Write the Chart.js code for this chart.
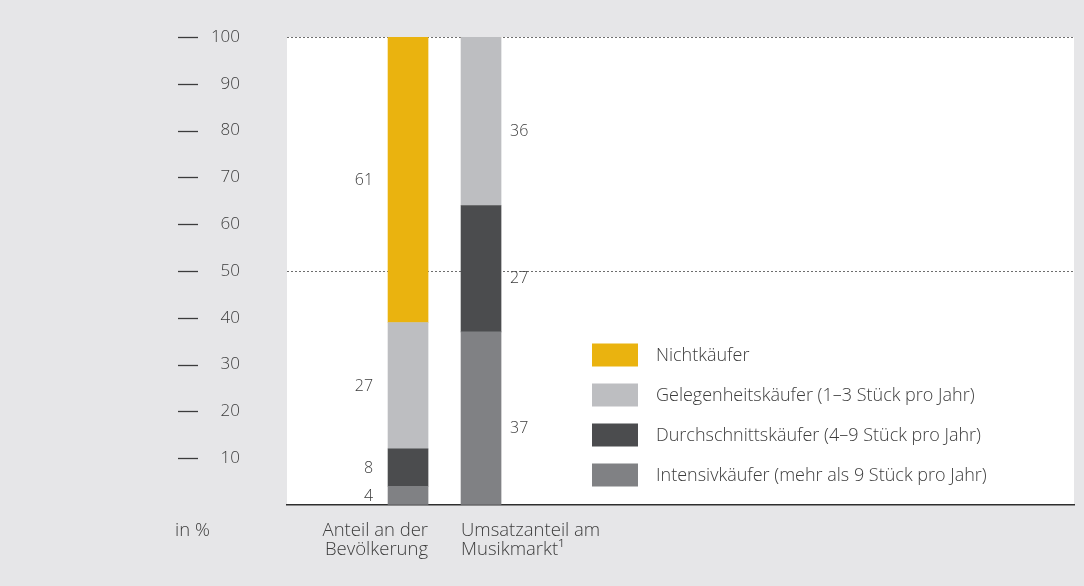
<!DOCTYPE html>
<html>
<head>
<meta charset="utf-8">
<script src="https://cdn.jsdelivr.net/npm/chart.js@4.4.1/dist/chart.umd.min.js"></script>
<style>
  html, body { margin: 0; padding: 0; background: #e6e6e8; }
  #wrap { width: 1084px; height: 586px; }
</style>
</head>
<body>
<div id="wrap"><canvas id="chart" width="1084" height="586"></canvas></div>
<script>
// categories (x) and series, stacked from bottom to top
const categories = [["Anteil an der", "Bevölkerung"], ["Umsatzanteil am", "Musikmarkt¹"]];
const seriesNames = [
  "Intensivkäufer (mehr als 9 Stück pro Jahr)",
  "Durchschnittskäufer (4–9 Stück pro Jahr)",
  "Gelegenheitskäufer (1–3 Stück pro Jahr)",
  "Nichtkäufer",
];
const intensiv = [4, 37];
const durchschnitt = [8, 27];
const gelegenheit = [27, 36];
const nicht = [61, 0];
const yTicks = [10, 20, 30, 40, 50, 60, 70, 80, 90, 100];
const gridValues = [50, 100];

const colors = ["#808184", "#4b4c4e", "#bdbec1", "#eab30f"];
const textColor = "#3c3c3c";
const FONT = "'Open Sans', sans-serif";

const seriesValues = [intensiv, durchschnitt, gelegenheit, nicht];

const datasets = seriesValues.map((vals, s) => ({
  label: seriesNames[s],
  data: vals.map((v, i) => ({ x: i, y: v })),
  backgroundColor: colors[s],
  borderWidth: 0,
  barThickness: 40,
}));

// white plot area + tick dashes + labels + legend
const decor = {
  id: "decor",
  beforeDraw(chart) {
    const { ctx, chartArea: a } = chart;
    ctx.save();
    ctx.fillStyle = "#ffffff";
    ctx.fillRect(a.left, a.top, a.right - a.left, a.bottom - a.top);
    ctx.restore();
  },
  afterDatasetsDraw(chart) {
    const { ctx, chartArea: a, scales } = chart;
    const x = scales.x, y = scales.y;
    ctx.save();
    // y tick dashes
    ctx.strokeStyle = "#3c3c3c";
    ctx.lineWidth = 1.3;
    yTicks.forEach((t) => {
      const py = Math.round(y.getPixelForValue(t)) + 0.5;
      ctx.beginPath();
      ctx.moveTo(178, py);
      ctx.lineTo(198, py);
      ctx.stroke();
    });

    // value labels
    ctx.font = "300 16px " + FONT;
    ctx.fillStyle = textColor;
    ctx.textBaseline = "middle";
    categories.forEach((c, i) => {
      const px = x.getPixelForValue(i);
      let base = 0;
      seriesValues.forEach((vals) => {
        const v = vals[i];
        if (v > 0) {
          const py = y.getPixelForValue(base + v / 2);
          if (i === 0) {
            ctx.textAlign = "right";
            ctx.fillText(String(v), px - 35, py + 1);
          } else {
            ctx.textAlign = "left";
            ctx.fillText(String(v), px + 29, py + 10);
          }
        }
        base += v;
      });
    });

    // category labels
    ctx.font = "300 18.5px " + FONT;
    ctx.textBaseline = "alphabetic";
    categories.forEach((lines, i) => {
      const px = x.getPixelForValue(i);
      ctx.textAlign = i === 0 ? "right" : "left";
      const lx = i === 0 ? px + 20 : px - 20;
      lines.forEach((ln, k) => ctx.fillText(ln, lx, a.bottom + 31 + k * 19));
    });
    ctx.textAlign = "left";
    ctx.fillText("in %", 175, a.bottom + 31);

    // legend (top series first)
    ctx.font = "300 18px " + FONT;
    ctx.textBaseline = "middle";
    for (let k = 0; k < seriesNames.length; k++) {
      const s = seriesNames.length - 1 - k;
      const cy = 355 + k * 40;
      ctx.fillStyle = colors[s];
      ctx.fillRect(592, cy - 11.5, 46, 23);
      ctx.fillStyle = textColor;
      ctx.fillText(seriesNames[s], 656, cy + 1);
    }
    ctx.restore();
  },
};

new Chart(document.getElementById("chart"), {
  type: "bar",
  data: { datasets },
  options: {
    responsive: false,
    animation: false,
    layout: { padding: { top: 37, right: 10, left: 0, bottom: 0 } },
    plugins: { legend: { display: false }, tooltip: { enabled: false } },
    scales: {
      x: {
        type: "linear",
        stacked: true,
        offset: false,
        min: -1.658,
        max: 9.123,
        ticks: { display: false },
        grid: { display: false },
        border: { display: true, color: "#2e2e2e", width: 1.5 },
        afterFit: (s) => { s.height = 81; },
      },
      y: {
        stacked: true,
        min: 0,
        max: 100,
        afterFit: (s) => {
          s.width = 287;
          s.paddingTop = 0;
          s.paddingBottom = 0;
        },
        ticks: {
          stepSize: 10,
          padding: 47,
          color: textColor,
          font: { family: FONT, size: 17, weight: 300 },
          callback: (v) => (yTicks.includes(v) ? String(v) : ""),
        },
        border: { display: false, dash: [2, 2] },
        grid: {
          drawTicks: false,
          lineWidth: 1,
          color: (c) => (gridValues.includes(c.tick.value) ? "#6e6e6e" : "rgba(0,0,0,0)"),
        },
      },
    },
  },
  plugins: [decor],
});
</script>
</body>
</html>
